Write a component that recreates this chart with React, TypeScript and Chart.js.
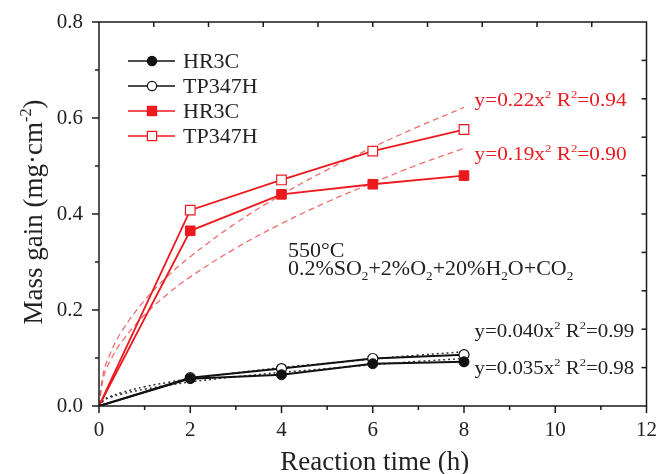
import React, { useEffect, useRef } from "react";
import { Chart, registerables } from "chart.js";

Chart.register(...registerables);

// ---- data ----
const timeH = [0, 2, 4, 6, 8];
const hr3cBlack = [0, 0.057, 0.065, 0.088, 0.092];
const tp347hBlack = [0, 0.059, 0.078, 0.099, 0.107];
const hr3cRed = [0, 0.365, 0.441, 0.462, 0.48];
const tp347hRed = [0, 0.408, 0.471, 0.531, 0.576];

const fitX = [0, 0.1, 0.25, 0.5, 1, 1.5, 2, 3, 4, 5, 6, 7, 8];
const fitTp347hRed = [0, 0.07, 0.11, 0.156, 0.22, 0.27, 0.311, 0.381, 0.44, 0.492, 0.539, 0.582, 0.622];
const fitHr3cRed = [0, 0.06, 0.095, 0.134, 0.19, 0.233, 0.269, 0.329, 0.38, 0.425, 0.465, 0.503, 0.537];
const fitTp347hBlack = [0, 0.013, 0.02, 0.028, 0.04, 0.049, 0.057, 0.069, 0.08, 0.089, 0.098, 0.106, 0.113];
const fitHr3cBlack = [0, 0.011, 0.018, 0.025, 0.035, 0.043, 0.05, 0.061, 0.07, 0.078, 0.086, 0.093, 0.099];

const legendLabels = ["HR3C", "TP347H", "HR3C", "TP347H"];
const xTickValues = [0, 2, 4, 6, 8, 10, 12];
const yTickValues = [0, 0.2, 0.4, 0.6, 0.8];

const FONT = '"Liberation Serif", "Times New Roman", serif';
const RED = "#ec1a1f";
const FIT_RED = "rgba(238,72,72,0.8)";
const BLACK = "#111111";

type Part = { t: string; s?: "sup" | "sub" };

function drawRich(ctx: CanvasRenderingContext2D, x: number, y: number, parts: Part[], size: number, color: string, stretch = 1) {
  ctx.save();
  ctx.translate(x, y);
  ctx.scale(stretch, 1);
  ctx.fillStyle = color;
  ctx.textBaseline = "alphabetic";
  ctx.textAlign = "left";
  let cx = 0;
  for (const p of parts) {
    if (p.s) {
      const ss = size * 0.6;
      ctx.font = `${ss}px ${FONT}`;
      const dy = p.s === "sup" ? -size * 0.42 : size * 0.22;
      ctx.fillText(p.t, cx, dy);
      cx += ctx.measureText(p.t).width;
    } else {
      ctx.font = `${size}px ${FONT}`;
      ctx.fillText(p.t, cx, 0);
      cx += ctx.measureText(p.t).width;
    }
  }
  ctx.restore();
  return cx * stretch;
}

function richWidth(ctx: CanvasRenderingContext2D, parts: Part[], size: number) {
  let w = 0;
  ctx.save();
  for (const p of parts) {
    ctx.font = `${p.s ? size * 0.6 : size}px ${FONT}`;
    w += ctx.measureText(p.t).width;
  }
  ctx.restore();
  return w;
}

const framePlugin = {
  id: "framePlugin",
  afterDraw(chart: any) {
    const ctx: CanvasRenderingContext2D = chart.ctx;
    const { left, right, top, bottom } = chart.chartArea;
    const x = chart.scales.x;
    const y = chart.scales.y;
    ctx.save();
    ctx.strokeStyle = "#1a1a1a";
    ctx.lineWidth = 1.5;
    // frame
    ctx.beginPath();
    ctx.moveTo(left, bottom);
    ctx.lineTo(left, top);
    ctx.lineTo(right, top);
    ctx.lineTo(right, bottom);
    ctx.lineTo(left, bottom);
    ctx.stroke();
    // bottom ticks (outward)
    for (let v = 0; v <= 12; v += 1) {
      const px = x.getPixelForValue(v);
      const len = v % 2 === 0 ? 7 : 4;
      ctx.beginPath();
      ctx.moveTo(px, bottom);
      ctx.lineTo(px, bottom + len);
      ctx.stroke();
    }
    // left ticks (outward)
    for (let i = 0; i <= 8; i++) {
      const py = y.getPixelForValue(i / 10);
      const len = i % 2 === 0 ? 7 : 4;
      ctx.beginPath();
      ctx.moveTo(left, py);
      ctx.lineTo(left - len, py);
      ctx.stroke();
    }
    // top ticks (inward)
    for (let i = 1; i < 10; i++) {
      const px = left + ((right - left) * i) / 10;
      ctx.beginPath();
      ctx.moveTo(px, top);
      ctx.lineTo(px, top + 5);
      ctx.stroke();
    }
    // right ticks (inward)
    for (let i = 1; i < 10; i++) {
      const py = top + ((bottom - top) * i) / 10;
      ctx.beginPath();
      ctx.moveTo(right, py);
      ctx.lineTo(right - 5, py);
      ctx.stroke();
    }
    ctx.restore();

    // axis titles
    ctx.save();
    ctx.fillStyle = "#222";
    ctx.font = `27px ${FONT}`;
    ctx.textAlign = "center";
    ctx.textBaseline = "alphabetic";
    ctx.fillText("Reaction time (h)", (left + right) / 2 + 2, 470);
    ctx.restore();

    const yTitle: Part[] = [{ t: "Mass gain (mg·cm" }, { t: "-2", s: "sup" }, { t: ")" }];
    ctx.save();
    ctx.translate(42, (top + bottom) / 2 - 2);
    ctx.rotate(-Math.PI / 2);
    const w = richWidth(ctx, yTitle, 27);
    drawRich(ctx, -w / 2, 0, yTitle, 27, "#222");
    ctx.restore();

    // legend
    const legendRows = [
      { color: BLACK, shape: "circle", fill: true },
      { color: BLACK, shape: "circle", fill: false },
      { color: RED, shape: "rect", fill: true },
      { color: RED, shape: "rect", fill: false },
    ];
    const lx0 = left + 29;
    const lx1 = left + 76;
    const rowY = [61, 86, 111, 136];
    legendRows.forEach((r, i) => {
      const py = rowY[i];
      ctx.save();
      ctx.strokeStyle = r.color;
      ctx.lineWidth = 1.6;
      ctx.beginPath();
      ctx.moveTo(lx0, py);
      ctx.lineTo(lx1, py);
      ctx.stroke();
      const cx = (lx0 + lx1) / 2 + 0.5;
      ctx.fillStyle = r.fill ? r.color : "#ffffff";
      ctx.lineWidth = 1.2;
      ctx.beginPath();
      if (r.shape === "circle") {
        ctx.arc(cx, py, 4.6, 0, Math.PI * 2);
      } else {
        ctx.rect(cx - 4.6, py - 4.6, 9.2, 9.2);
      }
      ctx.fill();
      ctx.stroke();
      ctx.fillStyle = "#222";
      ctx.font = `22px ${FONT}`;
      ctx.textBaseline = "middle";
      ctx.textAlign = "left";
      ctx.fillText(legendLabels[i], left + 84, py + 1);
      ctx.restore();
    });

    // annotations
    const notes: { x: number; y: number; parts: Part[]; color: string; size: number; stretch: number }[] = [
      { x: 8.23, y: 0.625, color: RED, size: 19, stretch: 1.12, parts: [{ t: "y=0.22x" }, { t: "2", s: "sup" }, { t: " R" }, { t: "2", s: "sup" }, { t: "=0.94" }] },
      { x: 8.23, y: 0.512, color: RED, size: 19, stretch: 1.12, parts: [{ t: "y=0.19x" }, { t: "2", s: "sup" }, { t: " R" }, { t: "2", s: "sup" }, { t: "=0.90" }] },
      { x: 8.23, y: 0.144, color: "#222", size: 19, stretch: 1.1, parts: [{ t: "y=0.040x" }, { t: "2", s: "sup" }, { t: " R" }, { t: "2", s: "sup" }, { t: "=0.99" }] },
      { x: 8.23, y: 0.0675, color: "#222", size: 19, stretch: 1.1, parts: [{ t: "y=0.035x" }, { t: "2", s: "sup" }, { t: " R" }, { t: "2", s: "sup" }, { t: "=0.98" }] },
      { x: 4.14, y: 0.311, color: "#222", size: 22, stretch: 1, parts: [{ t: "550°C" }] },
      {
        x: 4.14, y: 0.272, color: "#222", size: 22, stretch: 1,
        parts: [
          { t: "0.2%SO" }, { t: "2", s: "sub" }, { t: "+2%O" }, { t: "2", s: "sub" },
          { t: "+20%H" }, { t: "2", s: "sub" }, { t: "O+CO" }, { t: "2", s: "sub" },
        ],
      },
    ];
    for (const n of notes) {
      drawRich(ctx, x.getPixelForValue(n.x), y.getPixelForValue(n.y), n.parts, n.size, n.color, n.stretch);
    }
  },
};

function pts(xs: number[], ys: number[]) {
  return xs.map((v, i) => ({ x: v, y: ys[i] }));
}

export default function App() {
  const ref = useRef<HTMLCanvasElement | null>(null);
  useEffect(() => {
    if (!ref.current) return;
    const markerRadius = timeH.map((t) => (t === 0 ? 0 : 5));
    const squareRadius = timeH.map((t) => (t === 0 ? 0 : 6.8));
    const fitStyle = (color: string, dash: number[], width: number) => ({
      type: "line" as const,
      borderColor: color,
      borderWidth: width,
      borderDash: dash,
      pointRadius: 0,
      tension: 0.4,
      fill: false,
    });
    const chart = new Chart(ref.current, {
      type: "line",
      data: {
        datasets: [
          {
            label: "HR3C",
            data: pts(timeH, hr3cBlack),
            borderColor: BLACK,
            backgroundColor: BLACK,
            borderWidth: 2,
            pointStyle: "circle",
            pointRadius: markerRadius,
            pointBorderColor: BLACK,
            pointBackgroundColor: BLACK,
            pointBorderWidth: 1,
            tension: 0,
          },
          {
            label: "TP347H",
            data: pts(timeH, tp347hBlack),
            borderColor: BLACK,
            backgroundColor: "#ffffff",
            borderWidth: 2,
            pointStyle: "circle",
            pointRadius: markerRadius,
            pointBorderColor: BLACK,
            pointBackgroundColor: "#ffffff",
            pointBorderWidth: 1.2,
            tension: 0,
          },
          {
            label: "HR3C",
            data: pts(timeH, hr3cRed),
            borderColor: RED,
            backgroundColor: RED,
            borderWidth: 1.8,
            pointStyle: "rect",
            pointRadius: squareRadius,
            pointBorderColor: RED,
            pointBackgroundColor: RED,
            pointBorderWidth: 1,
            tension: 0,
          },
          {
            label: "TP347H",
            data: pts(timeH, tp347hRed),
            borderColor: RED,
            backgroundColor: "#ffffff",
            borderWidth: 1.8,
            pointStyle: "rect",
            pointRadius: squareRadius,
            pointBorderColor: RED,
            pointBackgroundColor: "#ffffff",
            pointBorderWidth: 1.2,
            tension: 0,
          },
          { label: "fit1", data: pts(fitX, fitTp347hRed), ...fitStyle(FIT_RED, [6, 4], 1.3) },
          { label: "fit2", data: pts(fitX, fitHr3cRed), ...fitStyle(FIT_RED, [6, 4], 1.3) },
          { label: "fit3", data: pts(fitX, fitTp347hBlack), ...fitStyle("#333", [2, 3], 1.5) },
          { label: "fit4", data: pts(fitX, fitHr3cBlack), ...fitStyle("#333", [2, 3], 1.5) },
        ] as any,
      },
      options: {
        animation: false,
        responsive: false,
        devicePixelRatio: 1,
        layout: { padding: { top: 22, right: 11, left: 0, bottom: 0 } },
        plugins: { legend: { display: false }, tooltip: { enabled: false } },
        scales: {
          x: {
            type: "linear",
            min: 0,
            max: 12,
            afterBuildTicks: (s: any) => {
              s.ticks = xTickValues.map((v) => ({ value: v }));
            },
            afterFit: (s: any) => {
              s.height = 68;
            },
            grid: { display: false },
            border: { display: false },
            ticks: {
              font: { family: FONT, size: 21 },
              color: "#222",
              padding: 4,
              maxRotation: 0,
            },
          },
          y: {
            type: "linear",
            min: 0,
            max: 0.8,
            afterBuildTicks: (s: any) => {
              s.ticks = yTickValues.map((v) => ({ value: v }));
            },
            afterFit: (s: any) => {
              s.width = 99;
            },
            grid: { display: false },
            border: { display: false },
            ticks: {
              font: { family: FONT, size: 21 },
              color: "#222",
              padding: 8,
              callback: (v: any) => Number(v).toFixed(1),
            },
          },
        },
      },
      plugins: [framePlugin],
    } as any);
    return () => chart.destroy();
  }, []);
  return (
    <div style={{ position: "absolute", left: 0, top: 0, width: 661, height: 474, background: "#fff" }}>
      <canvas ref={ref} width={661} height={474} style={{ width: 661, height: 474, display: "block" }} />
    </div>
  );
}
